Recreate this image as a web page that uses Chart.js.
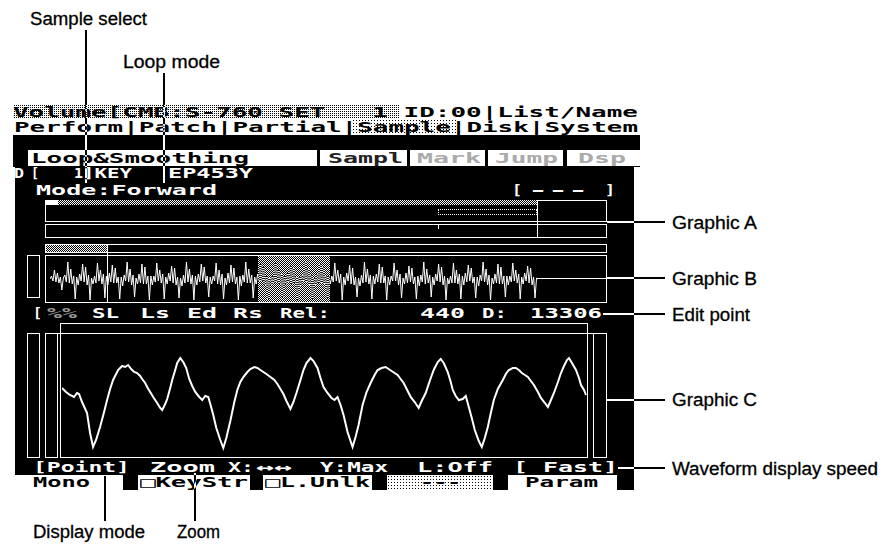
<!DOCTYPE html>
<html lang="en">
<head>
<meta charset="UTF-8">
<title>S-760 Loop&amp;Smoothing screen</title>
<script src="https://cdn.jsdelivr.net/npm/chart.js"></script>
<style>
    html, body { margin: 0; padding: 0; background: #fff; }
    #wrap { position: relative; width: 889px; height: 546px; overflow: hidden; }
    .abs { position: absolute; z-index: 1; }
    .blk { background: #000; }
    .wht { background: #fff; }
    .dith { background: repeating-conic-gradient(#000 0 25%, #fff 0 50%) 0 0 / 2px 2px; }
    .dith25 { background: repeating-conic-gradient(#000 0 25%, #fff 0 100%) 0 0 / 2px 2px; }
    .lite { background: #fff radial-gradient(circle, #000 0.6px, transparent 0.9px) 0 0 / 3px 3px; }
    .box { border: 1px solid #fff; box-sizing: border-box; }
    .dbox { border: 1px dotted #fff; box-sizing: border-box; }
    .blend { mix-blend-mode: difference; z-index: 3; }
    .inv { background: #fff; mix-blend-mode: difference; z-index: 5; }
    .lcd { position: absolute; z-index: 3; white-space: pre; transform-origin: 0 0;
           font: bold 14px "DejaVu Sans Mono", monospace; line-height: 13px; color: #000; }
    .note { position: absolute; z-index: 5; white-space: pre; transform-origin: 0 0;
            font: 18px "Liberation Sans", Arial, sans-serif; line-height: 18px; color: #000;
            -webkit-text-stroke: 0.3px #000; }
    canvas { position: absolute; z-index: 2; }
</style>
</head>
<body>
<div id="wrap">
    <canvas id="cvB" width="488" height="46" style="left:50px;top:256px"></canvas>
    <canvas id="cvC" width="525" height="124" style="left:62px;top:334px"></canvas>
</div>
<script>
// Graphic C - zoomed waveform: sample offset in the window, amplitude
const cPos = [0, 4, 8, 12, 15, 17, 20, 25, 28, 31, 34, 38, 42, 45, 48, 51, 56, 60, 63, 66,
    69, 72, 75, 78, 80, 83, 85, 88, 91, 95, 98, 100, 103, 105, 108, 110, 113, 115, 118, 121,
    124, 127, 130, 133, 137, 140, 143, 146, 148, 151, 154, 158, 161, 164, 168, 172, 175, 178, 181, 185,
    188, 192, 195, 198, 201, 204, 208, 212, 215, 218, 221, 224, 228, 231, 234, 238, 241, 244, 248, 251,
    255, 258, 261, 265, 269, 272, 275, 278, 281, 285, 290, 293, 296, 300, 304, 308, 312, 315, 319, 323,
    326, 329, 332, 335, 338, 341, 345, 348, 352, 356, 359, 363, 367, 371, 375, 378, 381, 385, 388, 390,
    393, 396, 400, 403, 406, 409, 412, 416, 419, 422, 425, 428, 431, 435, 440, 443, 446, 450, 453, 456,
    459, 462, 465, 468, 471, 475, 478, 482, 485, 488, 491, 495, 498, 501, 504, 506, 509, 513, 516, 518,
    521, 523];
const cAmp = [8, 4, 1, -1, 3, 2, -6, -17, -37, -51, -44, -31, -16, -4, 7, 16, 26, 30, 29, 31,
    27, 24, 23, 20, 17, 13, 9, 4, -1, -7, -12, -14, -8, -3, 8, 16, 26, 33, 38, 34,
    28, 17, 10, 4, -1, -4, 0, -1, -8, -19, -32, -44, -52, -42, -25, -6, 6, 14, 19, 24,
    27, 29, 28, 26, 24, 22, 19, 16, 12, 7, 2, -5, -13, -6, 3, 16, 26, 33, 38, 35,
    28, 18, 9, 3, -2, -4, -1, -9, -19, -36, -51, -41, -29, -9, 4, 13, 21, 26, 28, 29,
    27, 25, 23, 21, 17, 13, 5, -1, -6, -12, -5, 3, 15, 26, 34, 37, 33, 24, 14, 6,
    0, -4, -3, 0, -11, -22, -34, -45, -51, -42, -31, -17, -4, 7, 16, 22, 26, 28, 28, 26,
    23, 21, 19, 15, 11, 4, -2, -7, -11, -4, 3, 14, 23, 30, 36, 38, 33, 26, 18, 11,
    6, 1];

// Graphic B - whole sample overview, one value per column step
const bAmp = [
    0, 3, -2, 9, -3, 6, -4, 2, -11, 1,
    4, -3, 17, -4, 10, -5, 3, -20, 2, -6,
    5, -2, 15, -3, 12, -6, 4, -21, 1, -5,
    3, -4, 16, -2, 9, -5, 5, -19, 3, -6,
    6, -3, 14, -4, 11, -4, 2, -20, 2, -7,
    4, -2, 17, -3, 10, -6, 4, -18, 1, -5,
    5, -4, 15, -5, 12, -5, 3, -21, 3, -6,
    3, -3, 16, -2, 9, -4, 5, -20, 2, -5,
    6, -2, 13, -4, 11, -6, 2, -19, 1, -7,
    4, -4, 17, -3, 10, -5, 4, -21, 3, -6,
    5, -3, 15, -2, 12, -4, 3, -18, 2, -5,
    3, -2, 16, -5, 9, -6, 5, -20, 1, -6,
    6, -4, 14, -3, 11, -5, 2, -21, 3, -7,
    4, -3, 17, -4, 10, -4, 4, -19, 2, -5,
    5, -2, 15, -2, 12, -6, 3, -20, 1, -6,
    3, -4, 16, -3, 9, -5, 5, -18, 3, -5,
    6, -3, 13, -5, 11, -4, 2, -21, 2, -7,
    4, -2, 17, -3, 10, -6, 4, -20, 1, -6,
    5, -4, 15, -4, 12, -5, 3, -19, 3, -5,
    3, -3, 16, -2, 9, -4, 5, -21, 2, -6,
    6, -2, 14, -5, 11, -6, 2, -18, 1, -7,
    4, -4, 17, -3, 10, -5, 4, -20, 3, -5,
    5, -3, 15, -4, 12, -4, 3, -21, 2, -6,
    3, -2, 16, -2, 9, -6, 5, -19, 1, -5,
    6, -4, 13, -3, 11, -5, 2, -20, 3, -7,
    4, -3, 17, -5, 10, -4, 4, -18, 2, -6,
    5, -2, 15, -3, 12, -6, 3, -21, 1, -5,
    3, -4, 16, -4, 9, -5, 5, -20, 3, -6,
    6, -3, 14, -2, 11, -4, 2, -19, 2, -7,
    4, -2, 17, -3, 10, -6, 4, -21, 1, -5,
    5, -4, 15, -5, 12, -5, 3, -18, 3, -6,
    3, -3, 16, -2, 9, -4, 5, -20, 2, -5,
    6, -2, 13, -4, 11, -6, 2, -19, 1, 0
];

const wrap = document.getElementById("wrap");

function rect(x, y, w, h, cls) {
    const d = document.createElement("div");
    d.className = "abs " + cls;
    d.style.left = x + "px"; d.style.top = y + "px";
    d.style.width = w + "px"; d.style.height = h + "px";
    wrap.appendChild(d);
    return d;
}

// text squeezed/stretched to the width it has on the screen
function text(str, x, y, w, cls, color) {
    const d = document.createElement("div");
    d.className = cls || "lcd";
    d.textContent = str;
    d.style.left = x + "px"; d.style.top = y + "px";
    if (color) d.style.color = color;
    wrap.appendChild(d);
    const nat = d.getBoundingClientRect().width;
    if (w && nat) d.style.transform = "scaleX(" + (w / nat) + ")";
    return d;
}
const W = "#fff";

// top rows
rect(13, 105, 387, 14, "dith25");
text("Volume[CMB:S-760 SET   1 ID:00|List/Name", 13, 106, 625);
rect(352, 119, 106, 15, "lite");
text("Perform|Patch|Partial|Sample|Disk|System", 14, 120.5, 624);

// black body
rect(13, 135, 627, 32, "blk");
rect(15, 167, 619, 323, "blk");

// tab row
rect(28, 150, 289, 16, "wht"); text("Loop&Smoothing", 31, 152, 218);
rect(320, 150, 87, 16, "wht"); text("Sampl", 328, 152, 75, "lcd", "#222");
rect(410, 150, 75, 16, "wht"); text("Mark", 417, 152, 64, "lcd", "#aaa");
rect(488, 150, 75, 16, "wht"); text("Jump", 495, 152, 63, "lcd", "#aaa");
rect(567, 150, 73, 16, "wht"); text("Dsp", 578, 152, 48, "lcd", "#aaa");

// sample line / mode line
text("D", 14, 167, 10, "lcd", W);
text("[", 31, 167, 8, "lcd", W);
text("1", 74, 167, 9, "lcd", W);
text("]KEY", 82, 167, 50, "lcd", W);
text("EP453Y", 168, 167, 85, "lcd", W);
text("Mode:Forward", 36, 183.5, 181, "lcd", W);
text("[", 512, 183.5, 10, "lcd", W);
text("---", 528, 183.5, 60, "lcd", W);
text("]", 605, 183.5, 10, "lcd", W);

// Graphic A
rect(45, 200, 562, 22, "box");
rect(45, 200, 13, 5, "wht");
rect(58, 200, 479, 5, "dith");
rect(438, 209, 99, 6, "dbox");
rect(537, 200, 1, 38, "wht");
rect(45, 224, 562, 14, "box");
rect(438, 224, 1, 5, "wht");

// Graphic B frame
rect(45, 244, 562, 9, "box");
rect(46, 245, 61, 7, "dith");
rect(45, 255, 562, 48, "box");
rect(27, 255, 13, 43, "box");
rect(107, 244, 1, 59, "wht");
rect(537, 278, 70, 1, "wht");
rect(258, 256, 72, 46, "dith blend");

// edit point row
text("[", 33, 307, 9, "lcd", W);
text("%%", 47, 307, 30, "lcd", "#999");
text("SL", 92, 307, 27, "lcd", W);
text("Ls", 140, 307, 30, "lcd", W);
text("Ed", 187, 307, 30, "lcd", W);
text("Rs", 233, 307, 30, "lcd", W);
text("Rel:", 280, 307, 50, "lcd", W);
text("440", 420, 307, 45, "lcd", W);
text("D:", 482, 307, 25, "lcd", W);
text("13306", 530, 307, 72, "lcd", W);

// Graphic C frame
rect(60, 323, 528, 135, "box");
rect(45, 333, 562, 1, "wht");
rect(27, 333, 13, 125, "box");
rect(45, 333, 13, 125, "box");
rect(593, 333, 14, 125, "box");

// bottom rows
text("[Point]", 33, 461, 97, "lcd", W);
text("Zoom", 150, 461, 65, "lcd", W);
text("X:", 228, 461, 26, "lcd", W);
text("\u2194\u2194", 256, 461, 36, "lcd", W);
text("Y:Max", 320, 461, 68, "lcd", W);
text("L:Off", 417, 461, 76, "lcd", W);
text("[ Fast]", 513, 461, 105, "lcd", W);
rect(15, 475, 108, 15, "wht"); text("Mono", 33, 475.5, 57);
rect(138, 475, 112, 15, "wht"); text("\u25a1KeyStr", 140, 475.5, 108);
rect(263, 475, 109, 15, "wht"); text("\u25a1L.Unlk", 265, 475.5, 105);
rect(387, 475, 106, 15, "lite"); text("---", 420, 475.5, 41);
rect(508, 475, 109, 15, "wht"); text("Param", 525, 475.5, 73);

// leader lines (invert over the screen)
rect(85, 30, 2, 153, "inv");
rect(163, 73, 2, 110, "inv");
rect(104, 476, 2, 45, "inv");
rect(194, 473, 2, 48, "inv");
rect(607, 221, 58, 2, "inv");
rect(607, 277, 58, 2, "inv");
rect(603, 313, 62, 2, "inv");
rect(607, 399, 58, 2, "inv");
rect(618, 467, 47, 2, "inv");

// callouts
text("Sample select", 30, 10, 117, "note");
text("Loop mode", 123, 53, 97, "note");
text("Graphic A", 672, 214, 85, "note");
text("Graphic B", 672, 270, 85, "note");
text("Edit point", 672, 306, 78, "note");
text("Graphic C", 672, 391, 85, "note");
text("Waveform display speed", 672, 460, 206, "note");
text("Display mode", 33, 523, 112, "note");
text("Zoom", 177, 523, 43, "note");

// waveforms
const quiet = {
    responsive: false,
    animation: false,
    events: [],
    layout: { padding: 0 },
    plugins: { legend: { display: false }, tooltip: { enabled: false } }
};

new Chart(document.getElementById("cvB"), {
    type: "line",
    data: {
        datasets: [{
            data: bAmp.map((v, i) => ({ x: i, y: v })),
            borderColor: "#fff",
            borderWidth: 1,
            pointRadius: 0,
            tension: 0,
            clip: false
        }]
    },
    options: Object.assign({}, quiet, {
        scales: {
            x: { type: "linear", min: 0, max: bAmp.length - 1, display: false },
            y: { min: -23, max: 23, display: false }
        }
    })
});

new Chart(document.getElementById("cvC"), {
    type: "line",
    data: {
        datasets: [{
            data: cPos.map((x, i) => ({ x: x, y: cAmp[i] })),
            borderColor: "#fff",
            borderWidth: 2,
            pointRadius: 0,
            tension: 0,
            clip: false
        }]
    },
    options: Object.assign({}, quiet, {
        scales: {
            x: { type: "linear", min: 0, max: 524, display: false },
            y: { min: -62, max: 62, display: false }
        }
    })
});
</script>
</body>
</html>
